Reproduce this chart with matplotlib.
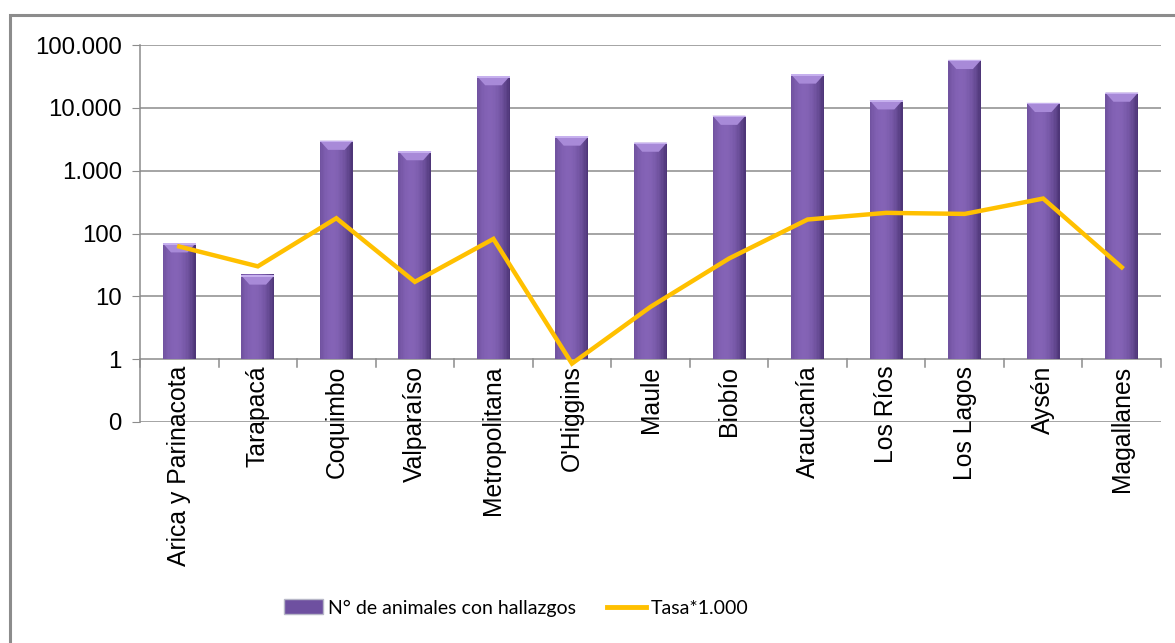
import numpy as np
import matplotlib
matplotlib.use('Agg')
from matplotlib import pyplot as plt
from matplotlib.patches import Rectangle, Patch, Polygon
from matplotlib.lines import Line2D

regiones = ['Arica y Parinacota', 'Tarapacá', 'Coquimbo', 'Valparaíso',
            'Metropolitana', "O'Higgins", 'Maule', 'Biobío', 'Araucanía',
            'Los Ríos', 'Los Lagos', 'Aysén', 'Magallanes']
animales = [70, 21.5, 3000, 2050, 32000, 3500, 2800, 7500, 34000,
            13200, 58000, 12000, 17500]
tasa = [62, 30, 175, 17, 82, 0.85, 6.8, 40, 167, 213, 205, 360, 29]

ytick_vals = [0.1, 1, 10, 100, 1000, 10000, 100000]
ytick_labels = ['0', '1', '10', '100', '1.000', '10.000', '100.000']

plt.rcParams['font.family'] = ['Liberation Sans', 'DejaVu Sans']

fig = plt.figure(figsize=(11.75, 6.43), dpi=100)
ax = fig.add_axes([140/1175, 1 - 422/643, 1021/1175, 377/643])

x = np.arange(len(regiones))
w = 0.42
grid_col = '#8c8c8c'

# bars with a horizontal shading, drawn as thin strips
n = 24
edge = np.linspace(-1, 1, n)
light = np.array([0x84, 0x63, 0xb6]) / 255
dark = np.array([0x4e, 0x36, 0x78]) / 255
for i in range(n):
    t = abs(edge[i] + 0.25) / 1.25
    c = light * (1 - t**2) + dark * t**2
    ax.bar(x - w/2 + i*w/n, animales, width=w/n, bottom=1, align='edge',
           color=c, linewidth=0, zorder=3)
# light bevel on top of each bar
for xi, v in zip(x, animales):
    ax.add_patch(Polygon([(xi - w/2, v), (xi + w/2, v), (xi + w/4, v / 1.4),
                          (xi - w/4, v / 1.4)], closed=True,
                         facecolor='#a88ad8', edgecolor='none', zorder=3.5))
    ax.add_patch(Polygon([(xi - w/2, v), (xi + w/2, v), (xi + w/2, v / 1.06),
                          (xi - w/2, v / 1.06)], closed=True,
                         facecolor='#c6b0ee', edgecolor='none', zorder=3.6))

ax.plot(x, tasa, color='#ffc000', lw=3.2, zorder=4, solid_joinstyle='miter')

ax.set_yscale('log')
ax.set_ylim(0.1, 100000)
ax.set_xlim(-0.5, len(regiones) - 0.5)
ax.set_yticks(ytick_vals)
ax.set_yticklabels(ytick_labels)
ax.yaxis.set_minor_locator(matplotlib.ticker.NullLocator())
ax.tick_params(axis='y', length=6, color=grid_col, labelsize=17.3, pad=7)

for v in ytick_vals:
    ax.axhline(v, color=grid_col, lw=1.1, zorder=1)

for s in ['top', 'right', 'bottom']:
    ax.spines[s].set_visible(False)
ax.spines['left'].set_color(grid_col)
ax.spines['left'].set_linewidth(1.1)

# category axis crosses at 1, ticks between categories
ax.set_xticks([])
for b in np.arange(-0.5, len(regiones), 1.0):
    ax.plot([b, b], [1, 0.74], color=grid_col, lw=1.1, zorder=2, clip_on=False)
for xi, name in zip(x, regiones):
    ax.text(xi, 0.79, name, rotation=90, ha='center', va='top', fontsize=17.8,
            zorder=5)

handles = [Patch(facecolor='#6e50a0', edgecolor='#b7b7c7'),
           Line2D([0], [0], color='#ffc000', lw=3.5)]
fig.legend(handles, ['N° de animales con hallazgos', 'Tasa*1.000'],
           loc='center', bbox_to_anchor=(516/1175, 1 - 608/643), ncol=2,
           frameon=False, prop={'family': 'Lato', 'size': 14},
           handlelength=2.0, handleheight=0.8, handletextpad=0.25,
           columnspacing=1.6)

fig.patches.append(Rectangle((10/1175, -0.05), 1.1, 1 - 15/643 + 0.05,
                             transform=fig.transFigure, fill=False,
                             edgecolor='#8c8c8c', lw=2.2))

fig.savefig('out.png', dpi=100)
